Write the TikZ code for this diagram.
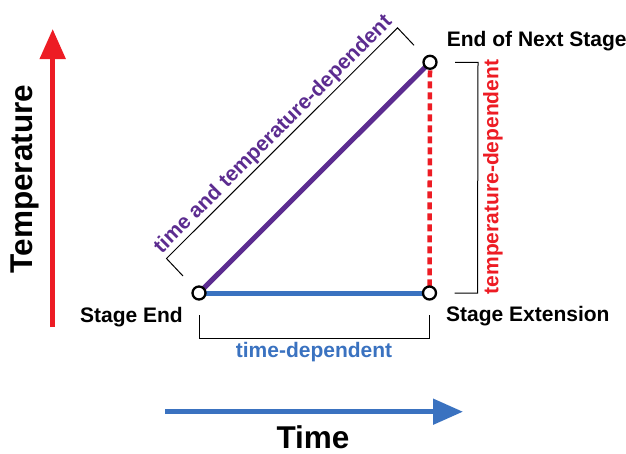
\documentclass[tikz,border=0pt]{standalone}
\usepackage{fontspec}
\setmainfont{Liberation Sans}
\usetikzlibrary{arrows.meta,calc}
\definecolor{myred}{RGB}{237,28,36}
\definecolor{myblue}{RGB}{58,114,192}
\definecolor{mypurple}{RGB}{92,44,144}
\tikzset{
  pt/.style={circle,draw=black,line width=2.3pt,fill=white,minimum size=13pt,inner sep=0pt},
  brk/.style={draw=black,line width=1pt},
  lbl/.style={font=\fontsize{21}{25}\selectfont\bfseries,inner sep=0pt},
  big/.style={font=\fontsize{31.5}{36}\selectfont\bfseries,inner sep=0pt},
  axis/.style={line width=5pt,-{Triangle[length=30pt,width=25pt]}},
}
\begin{document}
\begin{tikzpicture}[x=1pt,y=-1pt]
\useasboundingbox (0,0) rectangle (626,453);
% axes
\coordinate (ry0) at (52.7,327);
\coordinate (ry1) at (52.7,29);
\draw[axis,myred] (ry0) -- (ry1);
\node[big,rotate=90] (temp) at (25,179) {Temperature};
\coordinate (bx0) at (165,411.7);
\coordinate (bx1) at (463,411.7);
\draw[axis,myblue] (bx0) -- (bx1);
\node[big,anchor=base] (time) at (313,448) {Time};
% points
\coordinate (a) at (199,293);
\coordinate (b) at (429.5,293);
\coordinate (c) at (430,62.3);
\draw[line width=5pt,myblue] (a) -- (b);
\draw[line width=5pt,mypurple] (a) -- (c);
\draw[line width=4.5pt,myred,dash pattern=on 7pt off 4pt] ([yshift=-8pt]c) -- ([yshift=6pt]b);
\node[pt] (A) at (a) {};
\node[pt] (B) at (b) {};
\node[pt] (C) at (c) {};
% point labels
\node[lbl,anchor=base east] (lA) at (183,322) {Stage End};
\node[lbl,anchor=base west] (lB) at (446,321.7) {Stage Extension};
\node[lbl,anchor=base west] (lC) at (446.7,46) {End of Next Stage};
% brackets
\draw[brk] ([yshift=-22pt]A.center) -- ([yshift=-45pt]A.center) -- ([yshift=-45pt]B.center) -- ([yshift=-22pt]B.center);
\node[lbl,myblue,anchor=base] (tdep) at (314,357) {time-dependent};
\draw[brk] ([xshift=25pt]C.center) -- ([xshift=48pt]C.center) -- ([xshift=48pt]B.center) -- ([xshift=25pt]B.center);
\node[lbl,myred,rotate=90] (Tdep) at (493,177) {temperature-dependent};
\draw[brk] ([shift={(-16pt,17pt)}]A.center) -- ([shift={(-32.5pt,34.5pt)}]A.center) -- ([shift={(-32.5pt,34.5pt)}]C.center) -- ([shift={(-16pt,17pt)}]C.center);
\coordinate (m) at ($([shift={(-32.5pt,34.5pt)}]A.center)!0.5!([shift={(-32.5pt,34.5pt)}]C.center)$);
\node[lbl,mypurple,rotate=45,anchor=south,inner sep=2pt] (ttdep) at (m) {time and temperature-dependent};
\end{tikzpicture}
\end{document}
